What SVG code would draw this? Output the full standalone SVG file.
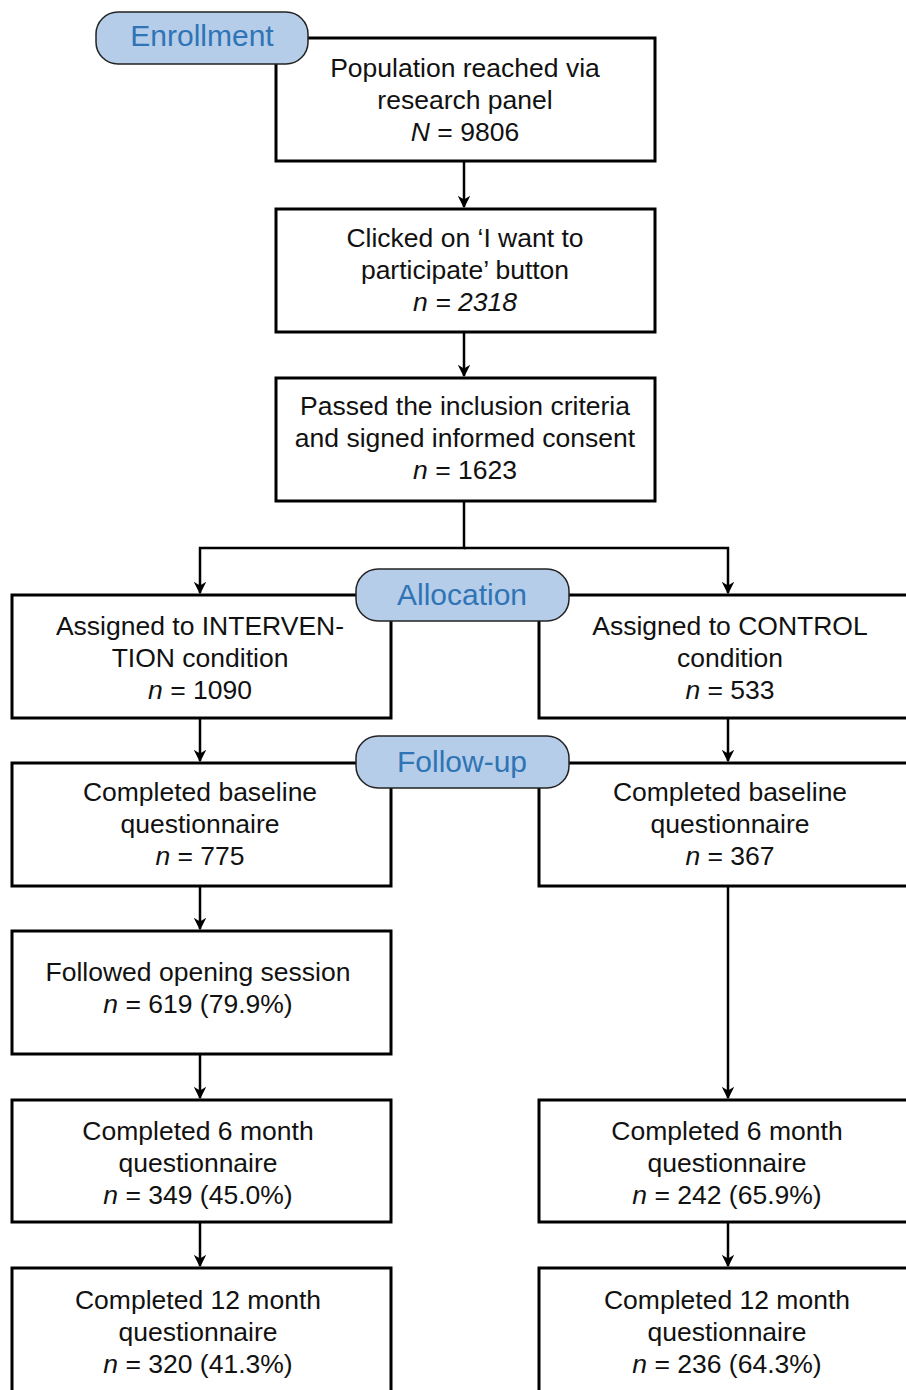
<svg xmlns="http://www.w3.org/2000/svg" width="906" height="1390" viewBox="0 0 906 1390">
<style>
.box{fill:#fff;stroke:#000;stroke-width:3}
.pill{fill:#b5cde9;stroke:#222;stroke-width:1.5}
.t{font-family:"Liberation Sans",Arial,sans-serif;font-size:26.5px;fill:#111;text-anchor:middle}
.p{font-family:"Liberation Sans",Arial,sans-serif;font-size:30px;fill:#2f74b5;text-anchor:middle}
.c{fill:none;stroke:#000;stroke-width:2.5}
</style>
<defs>
<marker id="ah" viewBox="0 0 10 10" refX="9" refY="5" markerWidth="5" markerHeight="5" orient="auto" markerUnits="strokeWidth">
<path d="M0,0 L10,5 L0,10 L3,5 Z" fill="#000"/>
</marker>
</defs>
<rect width="906" height="1390" fill="#fff"/>
<g id="connectors">
<line class="c" x1="464" y1="161" x2="464" y2="207" marker-end="url(#ah)"/>
<line class="c" x1="464" y1="332" x2="464" y2="376" marker-end="url(#ah)"/>
<polyline class="c" points="464,501 464,548 200,548 200,593" marker-end="url(#ah)"/>
<polyline class="c" points="464,548 728,548 728,593" marker-end="url(#ah)"/>
<line class="c" x1="200" y1="718" x2="200" y2="761" marker-end="url(#ah)"/>
<line class="c" x1="728" y1="718" x2="728" y2="761" marker-end="url(#ah)"/>
<line class="c" x1="200" y1="886" x2="200" y2="929" marker-end="url(#ah)"/>
<line class="c" x1="200" y1="1054" x2="200" y2="1098" marker-end="url(#ah)"/>
<line class="c" x1="728" y1="886" x2="728" y2="1098" marker-end="url(#ah)"/>
<line class="c" x1="200" y1="1222" x2="200" y2="1266" marker-end="url(#ah)"/>
<line class="c" x1="728" y1="1222" x2="728" y2="1266" marker-end="url(#ah)"/>
</g>
<g id="n-population">
<rect class="box" x="276" y="38" width="379" height="123"/>
<text class="t" x="465" y="77">Population reached via</text>
<text class="t" x="465" y="109">research panel</text>
<text class="t" x="465" y="141"><tspan font-style="italic">N</tspan> = 9806</text>
</g>
<g id="n-clicked">
<rect class="box" x="276" y="209" width="379" height="123"/>
<text class="t" x="465" y="247">Clicked on ‘I want to</text>
<text class="t" x="465" y="279">participate’ button</text>
<text class="t" x="465" y="311" font-style="italic">n = 2318</text>
</g>
<g id="n-passed">
<rect class="box" x="276" y="378" width="379" height="123"/>
<text class="t" x="465" y="415">Passed the inclusion criteria</text>
<text class="t" x="465" y="447">and signed informed consent</text>
<text class="t" x="465" y="479"><tspan font-style="italic">n</tspan> = 1623</text>
</g>
<g id="n-int-assigned">
<rect class="box" x="12" y="595" width="379" height="123"/>
<text class="t" x="200" y="635">Assigned to INTERVEN-</text>
<text class="t" x="200" y="667">TION condition</text>
<text class="t" x="200" y="699"><tspan font-style="italic">n</tspan> = 1090</text>
</g>
<g id="n-ctl-assigned">
<rect class="box" x="539" y="595" width="382" height="123"/>
<text class="t" x="730" y="635">Assigned to CONTROL</text>
<text class="t" x="730" y="667">condition</text>
<text class="t" x="730" y="699"><tspan font-style="italic">n</tspan> = 533</text>
</g>
<g id="n-int-baseline">
<rect class="box" x="12" y="763" width="379" height="123"/>
<text class="t" x="200" y="801">Completed baseline</text>
<text class="t" x="200" y="833">questionnaire</text>
<text class="t" x="200" y="865"><tspan font-style="italic">n</tspan> = 775</text>
</g>
<g id="n-ctl-baseline">
<rect class="box" x="539" y="763" width="382" height="123"/>
<text class="t" x="730" y="801">Completed baseline</text>
<text class="t" x="730" y="833">questionnaire</text>
<text class="t" x="730" y="865"><tspan font-style="italic">n</tspan> = 367</text>
</g>
<g id="n-int-opening">
<rect class="box" x="12" y="931" width="379" height="123"/>
<text class="t" x="198" y="981">Followed opening session</text>
<text class="t" x="198" y="1013"><tspan font-style="italic">n</tspan> = 619 (79.9%)</text>
</g>
<g id="n-int-6m">
<rect class="box" x="12" y="1100" width="379" height="122"/>
<text class="t" x="198" y="1140">Completed 6 month</text>
<text class="t" x="198" y="1172">questionnaire</text>
<text class="t" x="198" y="1204"><tspan font-style="italic">n</tspan> = 349 (45.0%)</text>
</g>
<g id="n-ctl-6m">
<rect class="box" x="539" y="1100" width="382" height="122"/>
<text class="t" x="727" y="1140">Completed 6 month</text>
<text class="t" x="727" y="1172">questionnaire</text>
<text class="t" x="727" y="1204"><tspan font-style="italic">n</tspan> = 242 (65.9%)</text>
</g>
<g id="n-int-12m">
<rect class="box" x="12" y="1268" width="379" height="140"/>
<text class="t" x="198" y="1309">Completed 12 month</text>
<text class="t" x="198" y="1341">questionnaire</text>
<text class="t" x="198" y="1373"><tspan font-style="italic">n</tspan> = 320 (41.3%)</text>
</g>
<g id="n-ctl-12m">
<rect class="box" x="539" y="1268" width="382" height="140"/>
<text class="t" x="727" y="1309">Completed 12 month</text>
<text class="t" x="727" y="1341">questionnaire</text>
<text class="t" x="727" y="1373"><tspan font-style="italic">n</tspan> = 236 (64.3%)</text>
</g>
<g id="l-enrollment">
<rect class="pill" x="96" y="12" width="212" height="52" rx="22"/>
<text class="p" x="202" y="46">Enrollment</text>
</g>
<g id="l-allocation">
<rect class="pill" x="356" y="569" width="213" height="52" rx="22"/>
<text class="p" x="462" y="605">Allocation</text>
</g>
<g id="l-followup">
<rect class="pill" x="356" y="736" width="213" height="52" rx="22"/>
<text class="p" x="462" y="772">Follow-up</text>
</g>
</svg>
